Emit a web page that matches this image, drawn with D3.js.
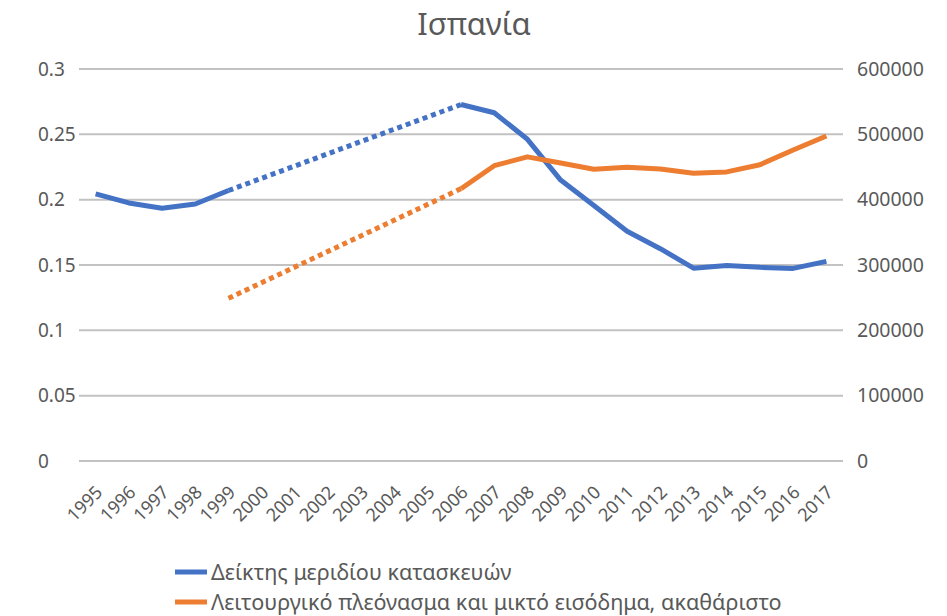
<!DOCTYPE html>
<html>
<head>
<meta charset="utf-8">
<script src="https://cdn.jsdelivr.net/npm/d3@7"></script>
<style>
  body { margin: 0; background: #fff; }
  text { font-family: "Noto Sans", "Open Sans", sans-serif; fill: #595959; }
</style>
</head>
<body>
<div id="chart"></div>
<script>
// Chart size
var svgWidth = 947;
var svgHeight = 616;

// Data (null = no value for that year)
var years = ["1995", "1996", "1997", "1998", "1999", "2000", "2001", "2002", "2003", "2004", "2005",
  "2006", "2007", "2008", "2009", "2010", "2011", "2012", "2013", "2014", "2015", "2016", "2017"];
var shareIndex = [0.2045, 0.1975, 0.1935, 0.1967, 0.207, null, null, null, null, null, null,
  0.2728, 0.2665, 0.2462, 0.215, 0.1955, 0.1758, 0.1625, 0.1476, 0.1497, 0.1482, 0.1474, 0.1528];
var surplus = [null, null, null, null, 249000, null, null, null, null, null, null,
  416800, 452000, 465500, 456000, 446500, 449500, 447000, 440500, 442500, 453500, 476000, 497500];
var leftTicks = [0, 0.05, 0.1, 0.15, 0.2, 0.25, 0.3];
var rightTicks = [0, 100000, 200000, 300000, 400000, 500000, 600000];
var seriesNames = ["Δείκτης μεριδίου κατασκευών", "Λειτουργικό πλεόνασμα και μικτό εισόδημα, ακαθάριστο"];
var seriesColors = ["#4472C4", "#ED7D31"];

var margin = { top: 69, right: 104, bottom: 155, left: 79 };
var chartWidth = svgWidth - margin.left - margin.right;
var chartHeight = svgHeight - margin.top - margin.bottom;

var svg = d3.select("#chart")
  .append("svg")
  .attr("width", svgWidth)
  .attr("height", svgHeight);

// Title
svg.append("text")
  .attr("x", 474)
  .attr("y", 35)
  .attr("text-anchor", "middle")
  .style("font-size", "31px")
  .text("Ισπανία");

var chartGroup = svg.append("g")
  .attr("transform", `translate(${margin.left}, ${margin.top})`);

// Scales
var xScale = d3.scalePoint()
  .domain(years)
  .range([0, chartWidth])
  .padding(0.5);

var yLeft = d3.scaleLinear().domain([0, 0.3]).range([chartHeight, 0]);
var yRight = d3.scaleLinear().domain([0, 600000]).range([chartHeight, 0]);

// Gridlines
chartGroup.append("g")
  .selectAll("line")
  .data(leftTicks)
  .enter()
  .append("line")
  .attr("x1", 0)
  .attr("x2", chartWidth)
  .attr("y1", d => yLeft(d))
  .attr("y2", d => yLeft(d))
  .attr("stroke", "#c2c2c2")
  .attr("stroke-width", 2);

// Left axis labels (left aligned, as in the picture)
var leftAxis = d3.axisLeft(yLeft).tickValues(leftTicks).tickSize(0).tickFormat(d => String(d));
chartGroup.append("g")
  .attr("transform", "translate(-41, 0)")
  .call(leftAxis)
  .call(g => g.select(".domain").remove())
  .selectAll("text")
  .attr("text-anchor", "start")
  .attr("x", 0)
  .style("font-size", "19px")
  .style("font-family", null);

// Right axis labels
var rightAxis = d3.axisRight(yRight).tickValues(rightTicks).tickSize(0).tickFormat(d3.format("d"));
chartGroup.append("g")
  .attr("transform", `translate(${chartWidth + 14}, 0)`)
  .call(rightAxis)
  .call(g => g.select(".domain").remove())
  .selectAll("text")
  .attr("x", 0)
  .style("font-size", "19.5px")
  .style("font-family", null);

// Bottom axis, rotated year labels
var bottomAxis = d3.axisBottom(xScale).tickSize(0);
chartGroup.append("g")
  .attr("transform", `translate(0, ${chartHeight})`)
  .call(bottomAxis)
  .call(g => g.select(".domain").remove())
  .selectAll("text")
  .attr("text-anchor", "end")
  .attr("dy", "0.35em")
  .attr("y", 0)
  .attr("transform", "translate(3, 28) rotate(-45)")
  .style("font-size", "18px")
  .style("font-family", null);

// Draws the solid pieces of a series and a dotted link across each gap
function drawSeries(values, yScale, color) {
  var pts = years.map((y, i) => ({ year: y, value: values[i] }));
  var line = d3.line()
    .defined(d => d.value !== null)
    .x(d => xScale(d.year))
    .y(d => yScale(d.value));

  chartGroup.append("path")
    .attr("d", line(pts))
    .attr("fill", "none")
    .attr("stroke", color)
    .attr("stroke-width", 5)
    .attr("stroke-linejoin", "round");

  var known = pts.filter(d => d.value !== null);
  for (var k = 1; k < known.length; k++) {
    var a = years.indexOf(known[k - 1].year);
    var b = years.indexOf(known[k].year);
    if (b - a > 1) {
      chartGroup.append("path")
        .attr("d", d3.line().x(d => xScale(d.year)).y(d => yScale(d.value))([known[k - 1], known[k]]))
        .attr("fill", "none")
        .attr("stroke", color)
        .attr("stroke-width", 5)
        .attr("stroke-dasharray", "5,4");
    }
  }
}

drawSeries(shareIndex, yLeft, seriesColors[0]);
drawSeries(surplus, yRight, seriesColors[1]);

// Legend
var legend = svg.append("g")
  .selectAll("g")
  .data(seriesNames)
  .enter()
  .append("g")
  .attr("transform", (d, i) => `translate(175, ${572 + i * 30})`);

legend.append("line")
  .attr("x1", 0)
  .attr("x2", 32)
  .attr("stroke", (d, i) => seriesColors[i])
  .attr("stroke-width", 5);

legend.append("text")
  .attr("x", 36)
  .attr("dy", "0.35em")
  .style("font-size", "21.6px")
  .text(d => d);
</script>
</body>
</html>
